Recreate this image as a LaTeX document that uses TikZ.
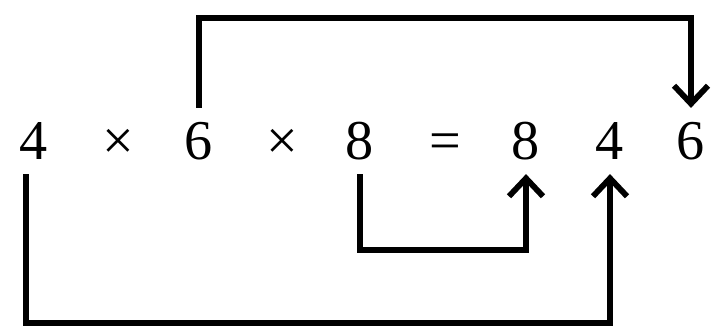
\documentclass[tikz,border=0pt]{standalone}
\usepackage{fontspec}
\setmainfont{Liberation Serif}
\usepackage{tikz}
\usetikzlibrary{arrows.meta}
\tikzset{
  sym/.style={inner xsep=0pt,inner ysep=0.28cm,text height=0.75cm,text depth=0pt,font=\fontsize{32}{38}\selectfont},
  link/.style={line width=3.3pt,line join=miter},
  linkarr/.style={link,-{Straight Barb[length=0.36cm,width=0.68cm]}},
}
\begin{document}
\begin{tikzpicture}[x=0.02cm,y=-0.02cm]
  \useasboundingbox (0,0) rectangle (726,334);
  \foreach \n/\x/\s in {a4/34/4,m1/118/×,a6/199/6,m2/282/×,a8/360/8,eq/445/=,b8/526/8,b4/610/4,b6/691/6}
    \node[sym] (\n) at (\x,141) {\s};
  \coordinate (top) at (0,18);
  \coordinate (mid) at (0,250);
  \coordinate (bot) at (0,323);
  \coordinate (s4) at ([xshift=-0.16cm]a4.south);
  \draw[linkarr] (a6.north) -- (a6.north |- top) -| (b6.north);
  \draw[linkarr] (a8.south) -- (a8.south |- mid) -| (b8.south);
  \draw[linkarr] (s4) -- (s4 |- bot) -| (b4.south);
\end{tikzpicture}
\end{document}
